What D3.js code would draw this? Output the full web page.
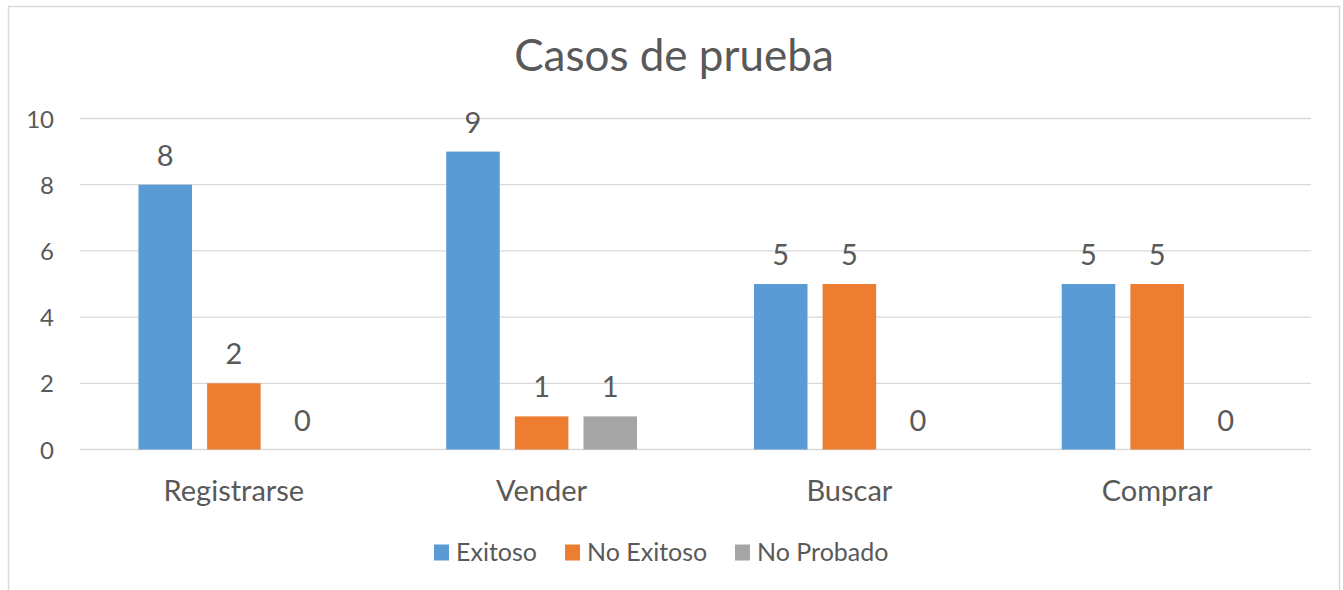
<!DOCTYPE html>
<html>
<head>
<meta charset="utf-8">
<script src="https://cdn.jsdelivr.net/npm/d3@7"></script>
<style>
  html, body { margin: 0; padding: 0; background: #fff; }
  svg { display: block; }
  text { font-family: Lato, "Noto Sans", sans-serif; fill: #595959; }
</style>
</head>
<body>
<svg id="chart" width="1343" height="590"></svg>
<script>
// Test cases per feature, grouped by outcome
const categories = ["Registrarse", "Vender", "Buscar", "Comprar"];
const seriesNames = ["Exitoso", "No Exitoso", "No Probado"];
const exitoso = [8, 9, 5, 5];
const noExitoso = [2, 1, 5, 5];
const noProbado = [0, 1, 0, 0];
const yTicks = [0, 2, 4, 6, 8, 10];
const colors = ["#5b9bd5", "#ed7d31", "#a5a5a5"];

const seriesValues = [exitoso, noExitoso, noProbado];

const svg = d3.select("#chart");

// chart frame
svg.append("rect")
  .attr("x", 8.5).attr("y", 6.5)
  .attr("width", 1331).attr("height", 600)
  .attr("fill", "#fff").attr("stroke", "#d9d9d9").attr("stroke-width", 1.5);

const plot = { left: 80, right: 1311, top: 118.5, bottom: 449.5 };

const x0 = d3.scaleBand()
  .domain(categories)
  .range([plot.left, plot.right])
  .paddingInner(0.38).paddingOuter(0.19);

const x1 = d3.scaleBand()
  .domain(seriesNames)
  .range([0, x0.bandwidth()])
  .paddingInner(0.22);

const y = d3.scaleLinear().domain([0, 10]).range([plot.bottom, plot.top]);

// horizontal gridlines
svg.append("g").selectAll("line")
  .data(yTicks)
  .join("line")
  .attr("x1", plot.left).attr("x2", plot.right)
  .attr("y1", d => y(d)).attr("y2", d => y(d))
  .attr("stroke", "#d9d9d9").attr("stroke-width", 1.3);

// y axis labels
const yAxis = d3.axisLeft(y).tickValues(yTicks).tickSize(0).tickPadding(0);
const yg = svg.append("g").attr("transform", `translate(54,0)`).call(yAxis);
yg.select(".domain").remove();
yg.selectAll("text").attr("font-size", 24).attr("fill", "#595959")
  .style("font-family", "Lato, sans-serif").attr("dy", "0.36em");

// category labels
const xAxis = d3.axisBottom(x0).tickSize(0).tickPadding(0);
const xg = svg.append("g").attr("transform", `translate(0,${plot.bottom})`).call(xAxis);
xg.select(".domain").remove();
xg.selectAll("text").attr("font-size", 29).attr("fill", "#595959")
  .style("font-family", "Lato, sans-serif").attr("y", 51).attr("dy", null);

// bars and value labels
const rows = categories.map((c, i) => ({
  cat: c,
  vals: seriesNames.map((s, j) => ({ s, j, v: seriesValues[j][i] }))
}));

const groups = svg.append("g").selectAll("g")
  .data(rows)
  .join("g")
  .attr("transform", d => `translate(${x0(d.cat)},0)`);

groups.selectAll("rect")
  .data(d => d.vals)
  .join("rect")
  .attr("x", d => x1(d.s))
  .attr("width", x1.bandwidth())
  .attr("y", d => y(d.v))
  .attr("height", d => y(0) - y(d.v))
  .attr("fill", d => colors[d.j]);

groups.selectAll("text")
  .data(d => d.vals)
  .join("text")
  .attr("x", d => x1(d.s) + x1.bandwidth() / 2)
  .attr("y", d => y(d.v) - 19)
  .attr("text-anchor", "middle")
  .attr("font-size", 29)
  .text(d => d.v);

// title
svg.append("text")
  .attr("x", 674).attr("y", 71)
  .attr("text-anchor", "middle")
  .attr("font-size", 44)
  .text("Casos de prueba");

// legend
const legendX = [434, 565, 735];
const leg = svg.append("g").selectAll("g")
  .data(seriesNames)
  .join("g")
  .attr("transform", (d, i) => `translate(${legendX[i]},544.5)`);
leg.append("rect").attr("width", 15).attr("height", 16).attr("fill", (d, i) => colors[i]);
leg.append("text").attr("x", 22).attr("y", 16.5)
  .attr("font-size", 25).text(d => d);
</script>
</body>
</html>
